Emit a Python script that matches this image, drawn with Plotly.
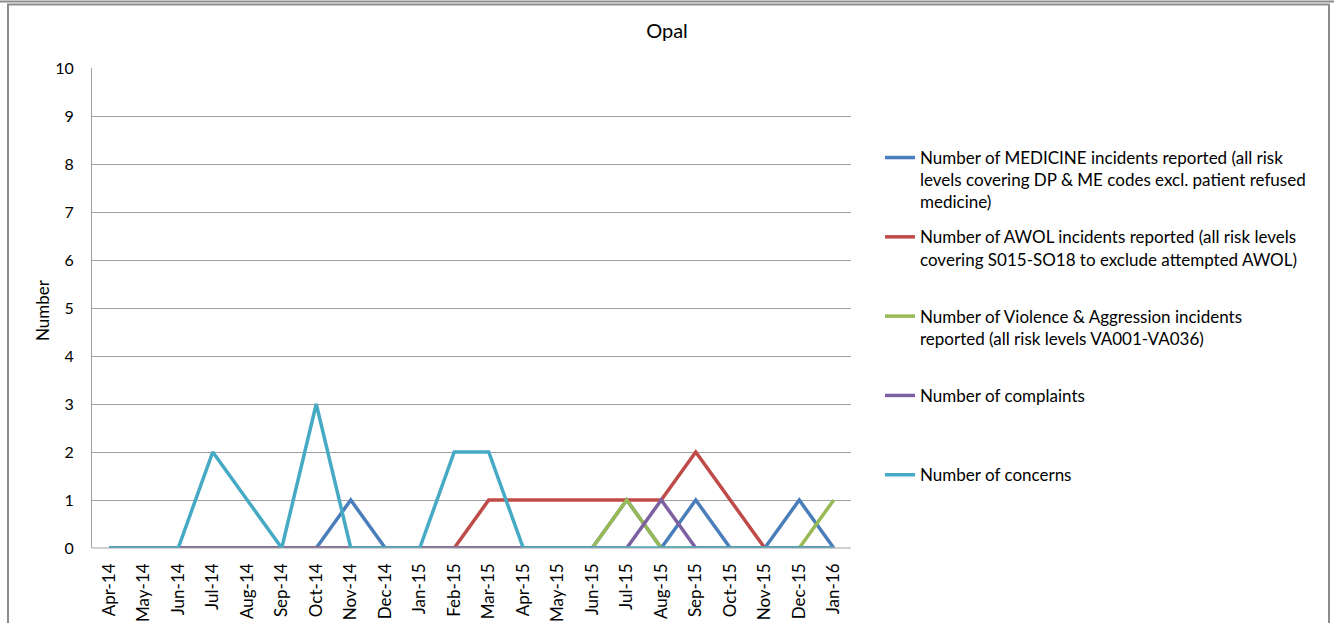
import plotly.graph_objects as go

months = ["Apr-14", "May-14", "Jun-14", "Jul-14", "Aug-14", "Sep-14", "Oct-14", "Nov-14",
          "Dec-14", "Jan-15", "Feb-15", "Mar-15", "Apr-15", "May-15", "Jun-15", "Jul-15",
          "Aug-15", "Sep-15", "Oct-15", "Nov-15", "Dec-15", "Jan-16"]

medicine = [0, 0, 0, 0, 0, 0, 0, 1, 0, 0, 0, 0, 0, 0, 0, 1, 0, 1, 0, 0, 1, 0]
awol = [0, 0, 0, 0, 0, 0, 0, 0, 0, 0, 0, 1, 1, 1, 1, 1, 1, 2, 1, 0, 0, 0]
violence = [0, 0, 0, 0, 0, 0, 0, 0, 0, 0, 0, 0, 0, 0, 0, 1, 0, 0, 0, 0, 0, 1]
complaints = [0, 0, 0, 0, 0, 0, 0, 0, 0, 0, 0, 0, 0, 0, 0, 0, 1, 0, 0, 0, 0, 0]
concerns = [0, 0, 0, 2, 1, 0, 3, 0, 0, 0, 2, 2, 0, 0, 0, 0, 0, 0, 0, 0, 0, 0]

series_names = [
    "Number of MEDICINE incidents reported (all risk<br>levels covering DP & ME codes excl. patient refused<br>medicine)",
    "Number of AWOL incidents reported (all risk levels<br>covering S015-SO18 to exclude attempted AWOL)<br> ",
    "Number of Violence & Aggression incidents<br>reported (all risk levels VA001-VA036)<br> ",
    "Number of complaints<br> <br> ",
    "Number of concerns<br> <br> ",
]
series_values = [medicine, awol, violence, complaints, concerns]
series_colors = ["#4A7EBB", "#BE4B48", "#98B954", "#7D60A0", "#46AAC5"]

FONT = "Lato"

fig = go.Figure()
for i, (name, vals, col) in enumerate(zip(series_names, series_values, series_colors)):
    fig.add_trace(go.Scatter(
        x=months, y=vals, mode="lines", name=name,
        legendgroup=f"g{i}",
        line=dict(color=col, width=3.5),
    ))

# plot area in px: left 92, right 851, top 68, bottom 548
L, R, T, B = 92, 851, 68, 548
W, H = 1334, 623
pw, ph = R - L, B - T

def px_x(p):
    return (p - L) / pw

def px_y(p):
    return (B - p) / ph

fig.update_layout(
    width=W, height=H,
    margin=dict(l=L, r=W - R, t=T, b=H - B, pad=0, autoexpand=False),
    paper_bgcolor="white", plot_bgcolor="white",
    font=dict(family=FONT, color="#000000", size=16),
    title=dict(text="Opal", x=0.5, xref="container", y=1 - 31 / H, yref="container",
               xanchor="center", yanchor="middle", font=dict(size=20, family=FONT)),
    showlegend=True,
    legend=dict(
        x=px_x(880), y=px_y(140), xanchor="left", yanchor="top",
        font=dict(size=17, family=FONT), valign="top",
        tracegroupgap=10, bgcolor="rgba(0,0,0,0)", itemwidth=30,
    ),
    xaxis=dict(
        type="category", range=[-0.5, len(months) - 0.5], automargin=False,
        showgrid=False, showline=False, zeroline=False,
        tickangle=-90, tickfont=dict(size=17, family=FONT),
        ticks="", ticklabelstandoff=11,
    ),
    yaxis=dict(
        range=[0, 10], dtick=1, tick0=0, automargin=False,
        showgrid=True, gridcolor="#A0A0A0", gridwidth=1.2,
        showline=True, linecolor="#A0A0A0", linewidth=1.2,
        zeroline=False, ticks="", ticklabelstandoff=14,
        tickfont=dict(size=16, family=FONT),
    ),
    shapes=[
        dict(type="line", xref="paper", yref="paper", x0=px_x(0), x1=px_x(1334),
             y0=px_y(1.5), y1=px_y(1.5), line=dict(color="#8C8C8C", width=2)),
        dict(type="rect", xref="paper", yref="paper", x0=px_x(8), x1=px_x(1329),
             y0=px_y(4.5), y1=px_y(640), line=dict(color="#8C8C8C", width=2)),
        dict(type="line", xref="paper", yref="paper", x0=0, x1=1, y0=0, y1=0,
             line=dict(color="#A0A0A0", width=1.2)),
    ],
    annotations=[
        dict(text="Number", textangle=-90, x=px_x(42), y=px_y(310), xref="paper", yref="paper",
             showarrow=False, font=dict(size=17, family=FONT), xanchor="center", yanchor="middle"),
    ],
)

fig.write_html("out.html", config={"displayModeBar": False},
               post_script="document.body.style.margin='0';document.body.style.overflow='hidden';")
